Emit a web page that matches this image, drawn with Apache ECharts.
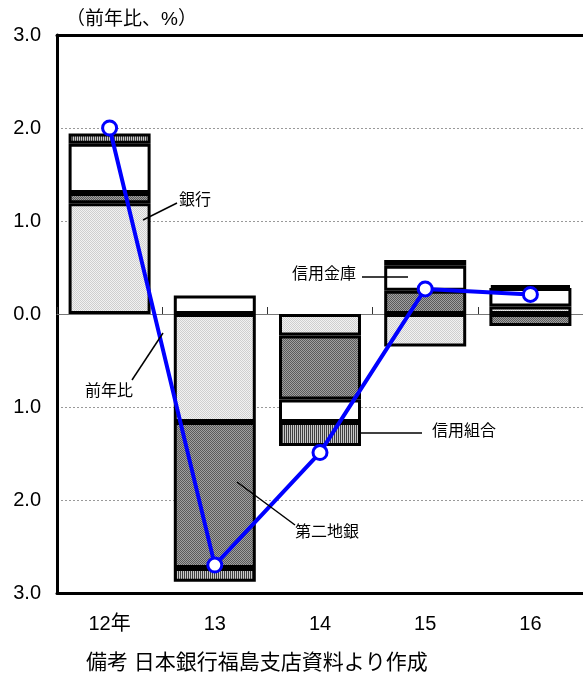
<!DOCTYPE html>
<html><head><meta charset="utf-8">
<script src="https://cdn.jsdelivr.net/npm/echarts@6/dist/echarts.min.js"></script>
<style>html,body{margin:0;padding:0;background:#fff}#c{width:583px;height:677px}</style>
</head><body><div id="c"></div>
<script>
// ---- data ----
const categories = ['12年', '13', '14', '15', '16'];
const banks = [1.19, -1.16, -0.23, -0.35, 0.08];        // 銀行
const secondRegional = [0.11, -1.57, -0.69, 0.25, -0.13]; // 第二地銀
const shinkin = [0.53, 0.20, -0.24, 0.27, 0.20];        // 信用金庫
const credCoops = [0.11, -0.15, -0.26, 0.06, 0.03];     // 信用組合
const yoy = [2.00, -2.70, -1.49, 0.27, 0.21];           // 前年比
const yMin = -3, yMax = 3, yStep = 1;

// ---- patterns ----
function pat(w, h, draw) {
  const c = document.createElement('canvas'); c.width = w; c.height = h;
  draw(c.getContext('2d')); return { image: c, repeat: 'repeat' };
}
const patBank = pat(2, 2, g => { g.fillStyle = '#f2f2f2'; g.fillRect(0,0,2,2); g.fillStyle = '#cfcfcf'; g.fillRect(0,0,1,1); g.fillRect(1,1,1,1); });
const patSecond = pat(2, 2, g => { g.fillStyle = '#a0a0a0'; g.fillRect(0,0,2,2); g.fillStyle = '#5a5a5a'; g.fillRect(0,0,1,1); g.fillRect(1,1,1,1); });
const patCoop = pat(2, 2, g => { g.fillStyle = '#c8c8c8'; g.fillRect(0,0,2,2); g.fillStyle = '#404040'; g.fillRect(0,0,1,2); });

const FONT = "'Liberation Sans', Arial, 'Noto Sans CJK JP', sans-serif";
const chart = echarts.init(document.getElementById('c'), null, { renderer: 'canvas' });

function barSeries(name, data, color) {
  return {
    name, type: 'bar', stack: 'total', data, xAxisIndex: 0, barWidth: 82,
    itemStyle: { color, borderColor: '#000', borderWidth: 3 },
    emphasis: { disabled: true }, z: 2
  };
}

const labelStyle = (text, x, y) => ({ type: 'text', x, y, style: { text, font: '16px ' + FONT, fill: '#000', textVerticalAlign: 'middle' }, z: 100 });
const leader = (x1, y1, x2, y2) => ({ type: 'line', shape: { x1, y1, x2, y2 }, style: { stroke: '#000', lineWidth: 1.5 }, z: 100 });

chart.setOption({
  animation: false,
  backgroundColor: '#fff',
  textStyle: { fontFamily: FONT },
  grid: { left: 57, right: 0, top: 35, bottom: 84, containLabel: false },
  xAxis: [
    { type: 'category', data: categories, position: 'bottom',
      axisLine: { onZero: false, lineStyle: { color: '#000', width: 3 } },
      axisTick: { show: false },
      axisLabel: { color: '#000', fontSize: 20, margin: 21, fontFamily: FONT } },
    { type: 'category', data: categories, position: 'top',
      axisLine: { onZero: false, lineStyle: { color: '#000', width: 3 } },
      axisTick: { show: false }, axisLabel: { show: false } },
    { type: 'category', data: categories, position: 'bottom',
      axisLine: { onZero: true, lineStyle: { color: '#777', width: 1 } },
      axisTick: { show: true, inside: true, length: 7, lineStyle: { color: '#333', width: 1 } },
      axisLabel: { show: false } }
  ],
  yAxis: {
    type: 'value', min: yMin, max: yMax, interval: yStep,
    axisLine: { show: true, lineStyle: { color: '#000', width: 3 } },
    axisTick: { show: false },
    axisLabel: { color: '#000', fontSize: 20, margin: 16, fontFamily: FONT,
      formatter: v => Math.abs(v).toFixed(1) },
    splitLine: { show: true, lineStyle: { color: '#999', type: [2, 2], width: 1 } }
  },
  series: [
    barSeries('銀行', banks, patBank),
    barSeries('第二地銀', secondRegional, patSecond),
    barSeries('信用金庫', shinkin, '#ffffff'),
    barSeries('信用組合', credCoops, patCoop),
    { name: '前年比', type: 'line', data: yoy, xAxisIndex: 0, z: 10,
      lineStyle: { color: '#0000ff', width: 4 },
      symbol: 'circle', symbolSize: 14, showSymbol: true,
      itemStyle: { color: '#fff', borderColor: '#0000ff', borderWidth: 3 },
      emphasis: { disabled: true } }
  ],
  graphic: [
    { type: 'text', x: 66, y: 20, style: { text: '（前年比、%）', font: '19px ' + FONT, fill: '#000', textVerticalAlign: 'middle' } },
    { type: 'text', x: 86, y: 663, style: { text: '備考 日本銀行福島支店資料より作成', font: '21px ' + FONT, fill: '#000', textVerticalAlign: 'middle' } },
    leader(143, 220, 177, 203), labelStyle('銀行', 179, 201),
    leader(132, 380, 163, 333), labelStyle('前年比', 85, 392),
    leader(362, 277, 408, 277), labelStyle('信用金庫', 292, 275),
    leader(360, 433, 422, 433), labelStyle('信用組合', 432, 432),
    leader(237, 482, 295, 525), labelStyle('第二地銀', 295, 533)
  ]
});
</script></body></html>
